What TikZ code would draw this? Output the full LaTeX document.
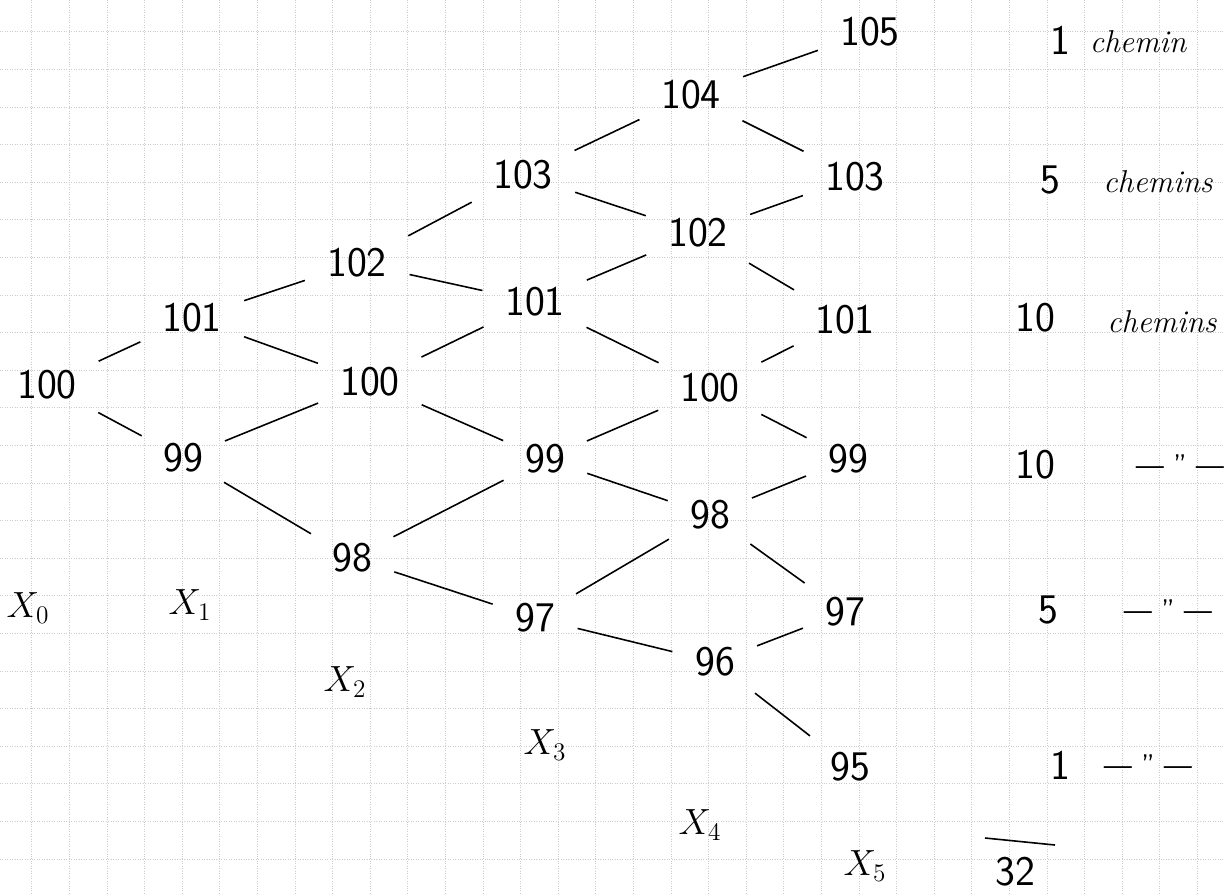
\documentclass[tikz,border=0pt]{standalone}

\begin{document}
\begin{tikzpicture}[
  x=0.02cm, y=-0.02cm,
  val/.style={font=\fontsize{24}{26}\selectfont\sffamily, inner sep=5pt},
  xlab/.style={font=\fontsize{22}{24}\selectfont},
  word/.style={font=\fontsize{18}{20}\selectfont\itshape},
  ditto/.style={font=\fontsize{17}{19}\selectfont\sffamily},
  edge/.style={line width=0.9pt, shorten <=8pt, shorten >=8pt},
  gridline/.style={densely dotted, gray!40, line width=0.4pt},
]
\useasboundingbox (0,0) rectangle (1224,894);

% ---- squared paper ----
\foreach \k in {0,...,31}
  \draw[gridline] ({31.7+37.6*\k},0) -- ({31.7+37.6*\k},894);
\foreach \k in {0,...,22}
  \draw[gridline] (0,{31.7+37.6*\k}) -- (1224,{31.7+37.6*\k});

% ---- tree ----
\node[val] (a100) at (47,385)  {100};

\node[val] (b101) at (192,318) {101};
\node[val] (b99)  at (183,458) {99};

\node[val] (c102) at (357,263) {102};
\node[val] (c100) at (370,382) {100};
\node[val] (c98)  at (352,558) {98};

\node[val] (d103) at (523,175) {103};
\node[val] (d101) at (535,302) {101};
\node[val] (d99)  at (545,459) {99};
\node[val] (d97)  at (535,618) {97};

\node[val] (e104) at (691,95)  {104};
\node[val] (e102) at (698,233) {102};
\node[val] (e100) at (710,388) {100};
\node[val] (e98)  at (710,515) {98};
\node[val] (e96)  at (715,662) {96};

\node[val] (f105) at (870,32)  {105};
\node[val] (f103) at (855,177) {103};
\node[val] (f101) at (845,320) {101};
\node[val] (f99)  at (848,459) {99};
\node[val] (f97)  at (845,612) {97};
\node[val] (f95)  at (850,767) {95};

% ---- steps ----
\node[xlab] (x0) at (28,608)  {$X_0$};
\node[xlab] (x1) at (190,605) {$X_1$};
\node[xlab] (x2) at (345,682) {$X_2$};
\node[xlab] (x3) at (545,745) {$X_3$};
\node[xlab] (x4) at (700,825) {$X_4$};
\node[xlab] (x5) at (865,866) {$X_5$};

% ---- counts ----
\node[val]   (r1n) at (1060,40)  {1};
\node[word]  (r1w) at (1138,42)  {chemin};
\node[val]   (r2n) at (1050,180) {5};
\node[word]  (r2w) at (1158,182) {chemins};
\node[val]   (r3n) at (1035,318) {10};
\node[word]  (r3w) at (1162,322) {chemins};
\node[val]   (r4n) at (1035,465) {10};
\node[ditto] (r4w) at (1180,465) {--- '' ---};
\node[val]   (r5n) at (1048,610) {5};
\node[ditto] (r5w) at (1168,610) {--- '' ---};
\node[val]   (r6n) at (1060,765) {1};
\node[ditto] (r6w) at (1148,765) {--- '' ---};
\draw[line width=0.9pt] (985,838) -- (1055,845);
\node[val]   (sum) at (1015,872) {32};

% ---- connectors ----
\draw[edge] (a100) -- (b101);
\draw[edge] (a100) -- (b99);
\draw[edge] (b101) -- (c102);
\draw[edge] (b101) -- (c100);
\draw[edge] (b99)  -- (c100);
\draw[edge] (b99)  -- (c98);
\draw[edge] (c102) -- (d103);
\draw[edge] (c102) -- (d101);
\draw[edge] (c100) -- (d101);
\draw[edge] (c100) -- (d99);
\draw[edge] (c98)  -- (d99);
\draw[edge] (c98)  -- (d97);
\draw[edge] (d103) -- (e104);
\draw[edge] (d103) -- (e102);
\draw[edge] (d101) -- (e102);
\draw[edge] (d101) -- (e100);
\draw[edge] (d99)  -- (e100);
\draw[edge] (d99)  -- (e98);
\draw[edge] (d97)  -- (e98);
\draw[edge] (d97)  -- (e96);
\draw[edge] (e104) -- (f105);
\draw[edge] (e104) -- (f103);
\draw[edge] (e102) -- (f103);
\draw[edge] (e102) -- (f101);
\draw[edge] (e100) -- (f101);
\draw[edge] (e100) -- (f99);
\draw[edge] (e98)  -- (f99);
\draw[edge] (e98)  -- (f97);
\draw[edge] (e96)  -- (f97);
\draw[edge] (e96)  -- (f95);

\end{tikzpicture}
\end{document}
